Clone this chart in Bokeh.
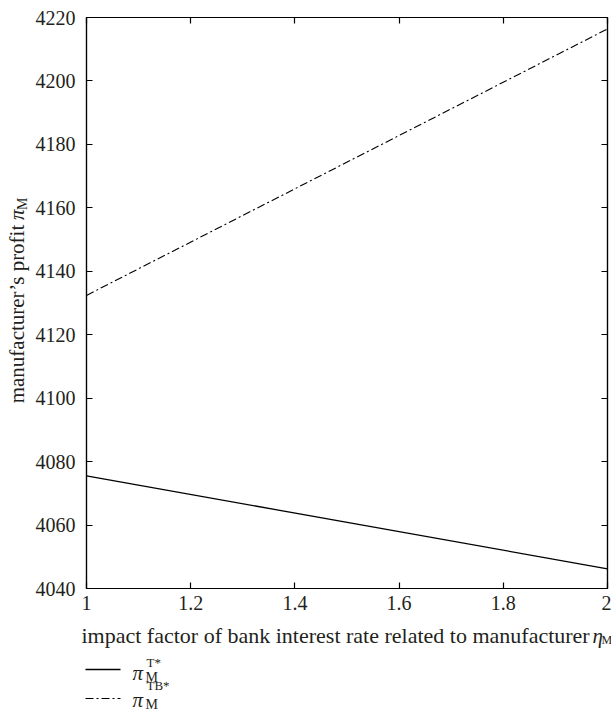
import math

from bokeh.core.properties import value
from bokeh.embed import file_html
from bokeh.layouts import column, row
from bokeh.models import CustomJSTickFormatter, FixedTicker, LinearAxis, Range1d
from bokeh.plotting import figure
from bokeh.resources import INLINE

# impact factor of bank interest rate related to manufacturer (eta_M)
eta = [1.0, 2.0]
# manufacturer's profit under the two financing modes
profit_t = [4075.5, 4046.2]     # pi_M^{T*}
profit_tb = [4132.4, 4216.4]    # pi_M^{TB*}

x_ticks = [1.0, 1.2, 1.4, 1.6, 1.8, 2.0]
x_tick_labels = ["1", "1.2", "1.4", "1.6", "1.8", "2"]
y_ticks = [4040, 4060, 4080, 4100, 4120, 4140, 4160, 4180, 4200, 4220]

SERIF = "Liberation Serif"
INK = "#231f20"
DASH_DOT = "8 3 2 3"

TOTAL_W, TOTAL_H = 611, 711
TITLE_W = 32          # strip on the left holding the rotated y title
MAIN_H = 620          # plot panel height; the rest holds x title and legend

# ---- main plot panel ----
p = figure(width=TOTAL_W - TITLE_W, height=MAIN_H,
           x_range=Range1d(1, 2), y_range=Range1d(4040, 4220),
           output_backend="svg", toolbar_location=None,
           min_border_left=86 - TITLE_W, min_border_right=4,
           min_border_top=17, min_border_bottom=MAIN_H - 588)
p.grid.visible = False
p.outline_line_color = "black"
p.outline_line_width = 1.2


def style_axis(ax, ticks, show_labels=True):
    ax.ticker = FixedTicker(ticks=ticks)
    ax.major_tick_in = 6
    ax.major_tick_out = 0
    ax.minor_tick_line_color = None
    ax.axis_line_color = "black"
    ax.axis_line_width = 1.2
    ax.major_tick_line_width = 1.2
    ax.major_label_text_font = SERIF
    ax.major_label_text_font_size = "20px"
    ax.major_label_text_color = INK
    if not show_labels:
        ax.formatter = CustomJSTickFormatter(code="return ''")
        ax.major_label_standoff = 0


style_axis(p.xaxis[0], x_ticks)
p.xaxis[0].major_label_overrides = {t: s for t, s in zip(x_ticks, x_tick_labels)}
p.xaxis[0].major_label_standoff = 7
style_axis(p.yaxis[0], y_ticks)
p.yaxis[0].major_label_standoff = 11

right = LinearAxis()
style_axis(right, y_ticks, show_labels=False)
p.add_layout(right, "right")
top = LinearAxis()
style_axis(top, x_ticks, show_labels=False)
p.add_layout(top, "above")

p.line(eta, profit_t, line_color="black", line_width=1.3)
p.line(eta, profit_tb, line_color="black", line_width=1.1, line_dash=DASH_DOT)


def blank(width, height):
    f = figure(width=width, height=height, x_range=Range1d(0, width), y_range=Range1d(0, height),
               output_backend="svg", toolbar_location=None, min_border=0,
               x_axis_location=None, y_axis_location=None)
    f.grid.visible = False
    f.outline_line_color = None
    return f


def put(f, x, y, s, size, style="normal", angle=0.0, align="left", baseline="alphabetic"):
    f.text(x=[x], y=[y], text=[s], text_font=value(SERIF), text_font_size=value(f"{size}px"),
           text_font_style=style, text_color=INK, angle=angle,
           text_align=align, text_baseline=baseline)


# ---- y-axis title strip (pixel coordinates, y measured from the strip bottom) ----
ytitle = blank(TITLE_W, MAIN_H)
up = math.pi / 2
put(ytitle, 16, MAIN_H - 225, "manufacturer’s profit", 21, angle=up, align="right", baseline="middle")
put(ytitle, 16, MAIN_H - 220, "π", 21, "italic", angle=up, baseline="middle")
put(ytitle, 22, MAIN_H - 209, "M", 14, angle=up, baseline="middle")

# ---- x-axis title and legend strip ----
LOW_H = TOTAL_H - MAIN_H
low = blank(TOTAL_W, LOW_H)
LIFT = 4  # the strip sits a few pixels lower on the page than its nominal top


def yb(Y):
    return TOTAL_H - Y + LIFT


put(low, 81, yb(639), "impact factor of bank interest rate related to manufacturer", 22)
put(low, 592, yb(639), "η", 21, "italic")
put(low, 601, yb(643), "M", 12)

# legend: line swatches with pi_M^{T*} and pi_M^{TB*}
low.line([85, 120], [yb(673), yb(673)], line_color="black", line_width=1.3)
low.line([85, 120], [yb(702), yb(702)], line_color="black", line_width=1.1, line_dash=DASH_DOT)
put(low, 132, yb(676), "π", 21, "italic")
put(low, 146, yb(666), "T*", 13)
put(low, 145, yb(681), "M", 14)
put(low, 132, yb(703), "π", 21, "italic")
put(low, 146, yb(689), "TB*", 13)
put(low, 145, yb(708), "M", 14)

layout = column(row(ytitle, p, spacing=0), low, spacing=0)
open("out.html", "w").write(file_html(layout, INLINE))
